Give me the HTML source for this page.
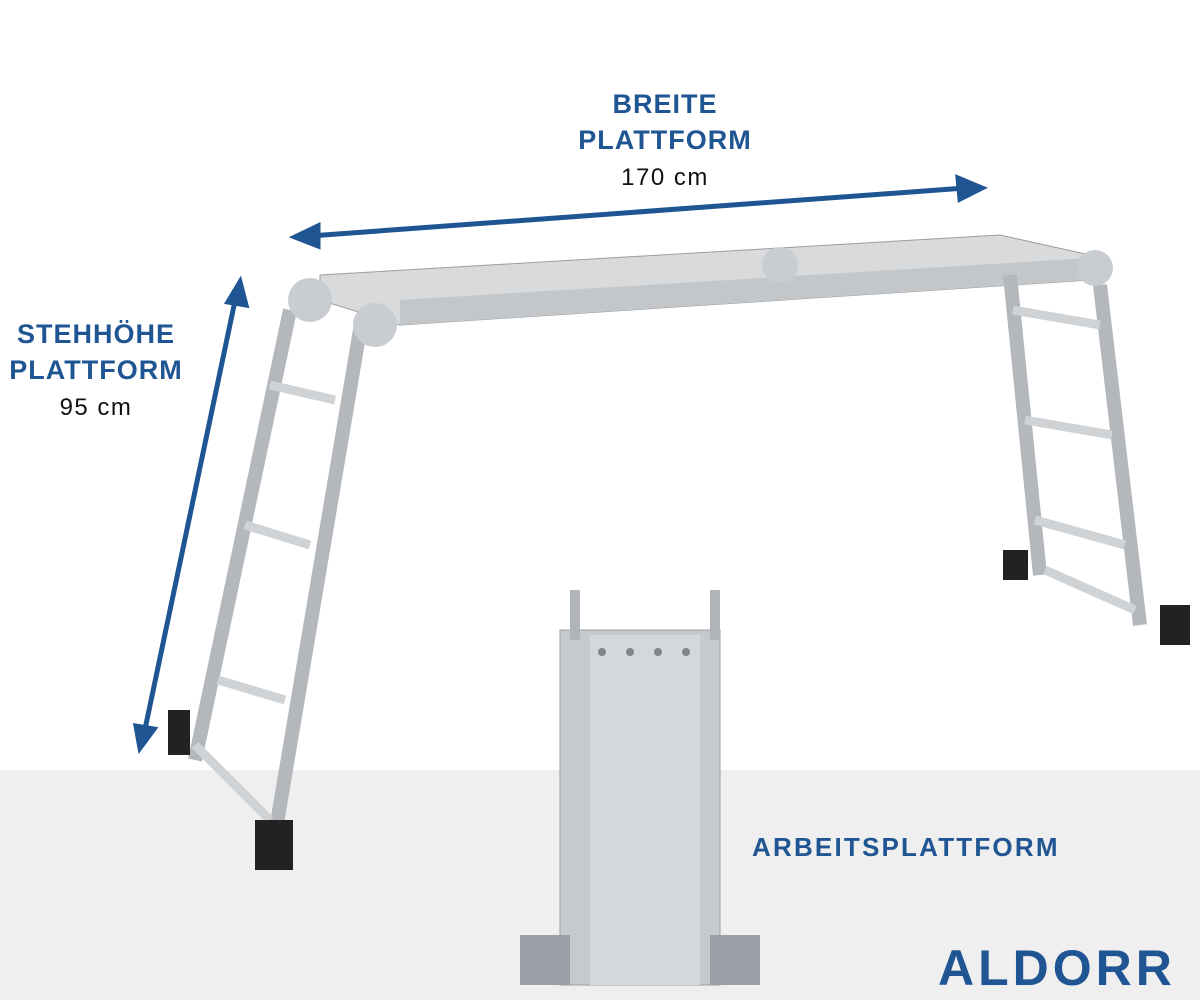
<!DOCTYPE html>
<html><head><meta charset="utf-8"><style>
body{margin:0;width:1200px;height:1000px;overflow:hidden;background:#fff;font-family:"Liberation Sans",sans-serif}
.t{position:absolute;color:#1f5592;font-weight:bold;font-size:27px;text-align:center;line-height:36px;letter-spacing:1px}
.n{color:#111;font-weight:normal;font-size:24px;letter-spacing:1.5px}
</style></head><body>
<div style="position:absolute;left:0;top:770px;width:1200px;height:230px;background:#efefef"></div>
<svg width="1200" height="1000" style="position:absolute;left:0;top:0">
<g stroke="#1f5592" stroke-width="5" fill="#1f5592">
<line x1="310" y1="236" x2="965" y2="188"/>
<path d="M295,237 L318,226 L318,246 z"/><path d="M982,188 L958,178 L960,199 z"/>
<line x1="236" y1="296" x2="144" y2="734"/>
<path d="M240,282 L228,302 L246,305 z"/><path d="M140,748 L136,726 L154,729 z"/>
</g>
<polygon points="320,275 1000,235 1090,255 1090,280 400,325 320,300" fill="#d8dadc" stroke="#9a9ea3"/>
<polygon points="400,300 1090,258 1090,280 400,325" fill="#c4c7ca"/>
<g stroke="#b4b8bc" stroke-width="14" fill="none">
<line x1="290" y1="310" x2="195" y2="760"/><line x1="360" y1="330" x2="275" y2="835"/>
<line x1="1010" y1="275" x2="1040" y2="575"/><line x1="1100" y1="285" x2="1140" y2="625"/>
</g>
<g stroke="#d0d3d6" stroke-width="9">
<line x1="270" y1="385" x2="335" y2="400"/><line x1="245" y1="525" x2="310" y2="545"/><line x1="218" y1="680" x2="285" y2="700"/><line x1="195" y1="745" x2="270" y2="820"/>
<line x1="1013" y1="310" x2="1100" y2="325"/><line x1="1025" y1="420" x2="1112" y2="435"/><line x1="1035" y1="520" x2="1125" y2="545"/><line x1="1045" y1="570" x2="1135" y2="610"/>
</g>
<circle cx="310" cy="300" r="22" fill="#c9ccd0"/><circle cx="375" cy="325" r="22" fill="#c9ccd0"/>
<circle cx="1095" cy="268" r="18" fill="#c9ccd0"/><circle cx="780" cy="265" r="18" fill="#c9ccd0"/>
<g fill="#222"><rect x="168" y="710" width="22" height="45"/><rect x="255" y="820" width="38" height="50"/><rect x="1003" y="550" width="25" height="30"/><rect x="1160" y="605" width="30" height="40"/></g>
<rect x="560" y="630" width="160" height="355" fill="#c7cacd" stroke="#9a9ea3"/>
<rect x="590" y="635" width="110" height="350" fill="#d5d8da"/>
<g fill="#9aa0a6"><rect x="520" y="935" width="50" height="50"/><rect x="710" y="935" width="50" height="50"/></g>
<g fill="#7f858c">
<circle cx="602" cy="652" r="4"/><circle cx="630" cy="652" r="4"/><circle cx="658" cy="652" r="4"/><circle cx="686" cy="652" r="4"/>
</g>
<rect x="570" y="590" width="10" height="50" fill="#b0b4b8"/><rect x="710" y="590" width="10" height="50" fill="#b0b4b8"/>
</svg>
<div class="t" style="left:555px;top:86px;width:220px">BREITE<br>PLATTFORM<br><span class="n">170 cm</span></div>
<div class="t" style="left:-4px;top:316px;width:200px">STEHHÖHE<br>PLATTFORM<br><span class="n">95 cm</span></div>
<div class="t" style="left:752px;top:829px;font-size:26px;letter-spacing:2.2px">ARBEITSPLATTFORM</div>
<div style="position:absolute;left:938px;top:940px;font-size:50px;font-weight:900;color:#1f5592;letter-spacing:4px;line-height:56px">ALDORR</div>
</body></html>
